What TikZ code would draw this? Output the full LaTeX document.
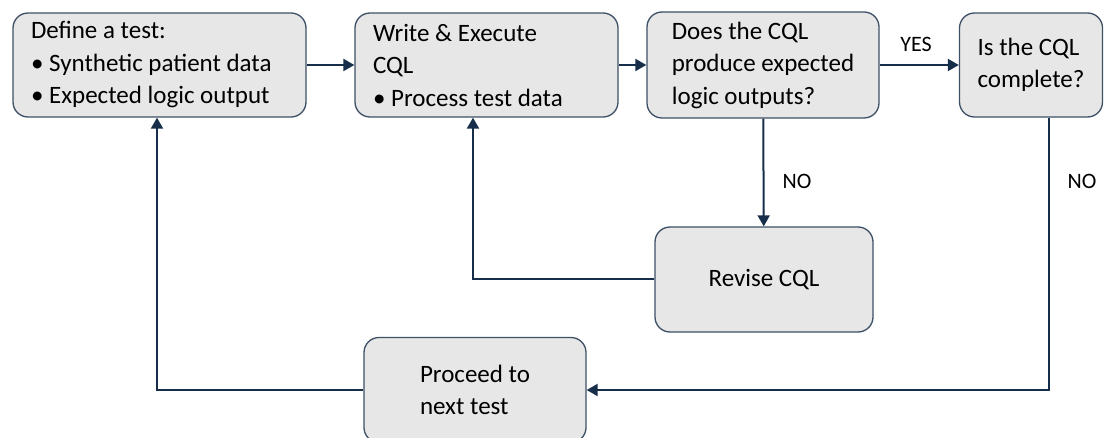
\documentclass[tikz,border=0pt]{standalone}
\usepackage{fontspec}
\setmainfont{Carlito}
\usetikzlibrary{arrows.meta}

\definecolor{boxfill}{RGB}{231,231,231}
\definecolor{boxline}{RGB}{62,80,102}
\definecolor{arrowline}{RGB}{22,46,74}

\tikzset{
  flowbox/.style={draw=boxline, line width=1.3pt, fill=boxfill, rounded corners=15pt,
    font=\fontsize{25}{32.5}\selectfont, align=left, inner sep=0pt},
  flowarrow/.style={draw=arrowline, line width=2pt, -{Triangle[length=11pt,width=12pt]}},
  flowlabel/.style={font=\fontsize{22}{24}\selectfont, inner sep=0.75pt}
}

\begin{document}
\begin{tikzpicture}[x=1pt,y=1pt,yscale=-1,xscale=1]
            \useasboundingbox (0,0) rectangle (1104,438);
            \clip (0,0) rectangle (1104,438);
            %Shape: Rounded Rect [id:define]
            \node (define) [flowbox, align=flush left, minimum width=293pt, minimum height=104pt, text width=257pt, inner xsep=18pt] at (159.5,65) {Define a test:\\• Synthetic patient data\\• Expected logic output};
            %Shape: Rounded Rect [id:write]
            \node (write) [flowbox, align=flush left, minimum width=263pt, minimum height=104pt, text width=227pt, inner xsep=18pt] at (486.5,65) {Write \& Execute\\CQL\\• Process test data};
            %Shape: Rounded Rect [id:check]
            \node (check) [flowbox, minimum width=232pt, minimum height=106pt] at (763,65) {Does the CQL\\produce expected\\logic outputs?};
            %Shape: Rounded Rect [id:complete]
            \node (complete) [flowbox, minimum width=143pt, minimum height=104pt] at (1031,65) {Is the CQL\\complete?};
            %Shape: Rounded Rect [id:revise]
            \node (revise) [flowbox, minimum width=218pt, minimum height=105pt] at (764,279.5) {Revise CQL};
            %Shape: Rounded Rect [id:proceed]
            \node (proceed) [flowbox, minimum width=222pt, minimum height=105pt] at (475,390) {Proceed to\\next test};

            %Straight Lines [id:define-write]
            \draw [flowarrow] (define) -- (write) ;
            %Straight Lines [id:write-check]
            \draw [flowarrow] (write) -- (check) ;
            %Straight Lines [id:check-complete]
            \draw [flowarrow] (check) -- (complete) ;
            %Straight Lines [id:check-revise]
            \draw [flowarrow] (check) -- (revise) ;
            %Straight Lines [id:revise-write]
            \draw [flowarrow] (revise.west) -| ([xshift=-13.5pt]write.south) ;
            %Straight Lines [id:complete-proceed]
            \draw [flowarrow] ([xshift=18pt]complete.south) |- (proceed.east) ;
            %Straight Lines [id:proceed-define]
            \draw [flowarrow] (proceed.west) -| ([xshift=-2.5pt]define.south) ;

            % Text Node
            \node (yes) [flowlabel] at (916,44) {YES};
            % Text Node
            \node (norevise) [flowlabel] at (797,181) {NO};
            % Text Node
            \node (noproceed) [flowlabel] at (1082,181) {NO};
\end{tikzpicture}
\end{document}
